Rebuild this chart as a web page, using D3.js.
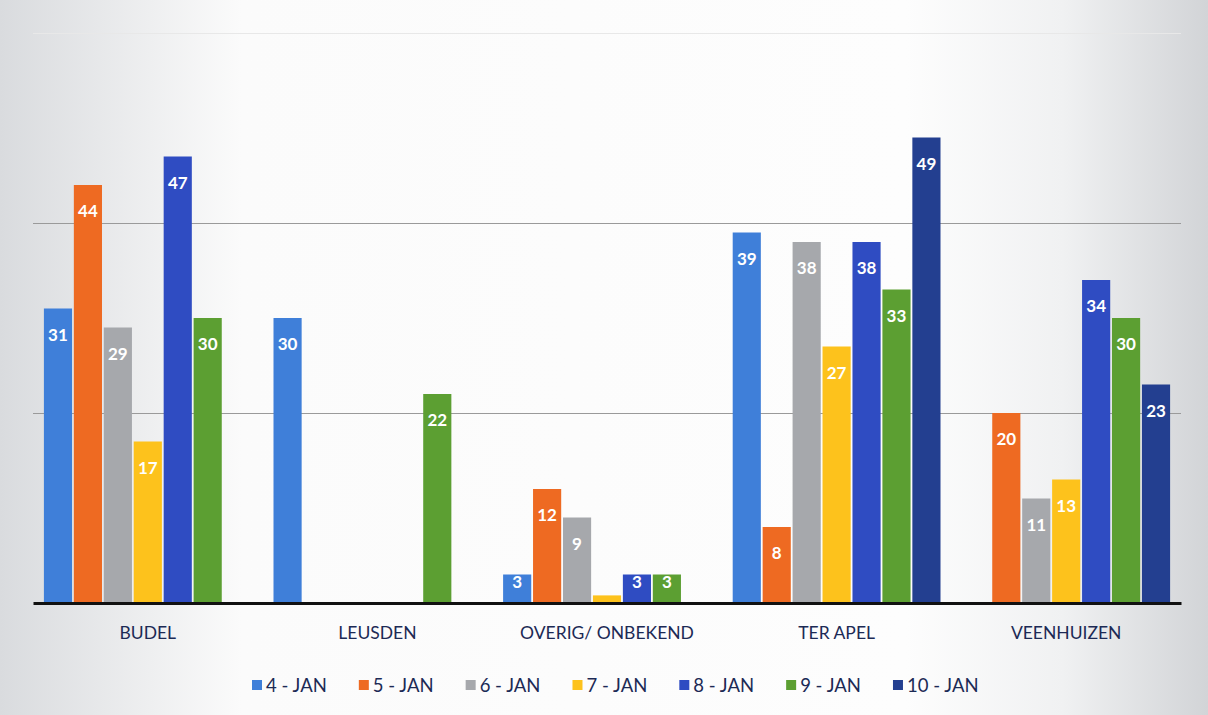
<!DOCTYPE html>
<html><head><meta charset="utf-8">
<script src="https://cdn.jsdelivr.net/npm/d3@7"></script>
<style>html,body{margin:0;padding:0;background:#fff;}svg{display:block;}</style>
</head><body>
<script>
const categories = ["BUDEL", "LEUSDEN", "OVERIG/ ONBEKEND", "TER APEL", "VEENHUIZEN"];
const seriesNames = ["4 - JAN", "5 - JAN", "6 - JAN", "7 - JAN", "8 - JAN", "9 - JAN", "10 - JAN"];
const jan4  = [31, 30, 3, 39, 0];
const jan5  = [44, 0, 12, 8, 20];
const jan6  = [29, 0, 9, 38, 11];
const jan7  = [17, 0, 0.8, 27, 13];
const jan8  = [47, 0, 3, 38, 34];
const jan9  = [30, 22, 3, 33, 30];
const jan10 = [0, 0, 0, 49, 23];
const yTicks = [20, 40, 60];
const colors = ["#3f7fd9", "#ee6a22", "#a6a8ac", "#fdc21c", "#2f4cc2", "#5c9f32", "#233f90"];

const seriesValues = [jan4, jan5, jan6, jan7, jan8, jan9, jan10];
const W = 1208, H = 715;
const svg = d3.select("body").append("svg").attr("width", W).attr("height", H);

const defs = svg.append("defs");
const g1 = defs.append("linearGradient").attr("id", "bg").attr("x1", "0").attr("x2", "1").attr("y1", "0").attr("y2", "0");
[[0, "#d9dbde"], [0.2, "#fbfbfb"], [0.75, "#fdfdfd"], [0.88, "#f0f1f2"], [1, "#d2d4d7"]].forEach(([o, c]) => g1.append("stop").attr("offset", o).attr("stop-color", c));
svg.append("rect").attr("width", W).attr("height", H).attr("fill", "url(#bg)");

const x0 = d3.scaleBand().domain(categories).range([33, 1181]).paddingInner(0).paddingOuter(0);
const x1 = d3.scaleBand().domain(seriesNames).range([10, x0.bandwidth() - 10]).paddingInner(0.06).paddingOuter(0.03);
const y = d3.scaleLinear().domain([0, 60]).range([603, 33]);

// gridlines
svg.append("g").selectAll("line").data(yTicks).join("line")
  .attr("x1", 33).attr("x2", 1181)
  .attr("y1", d => Math.round(y(d)) + 0.5).attr("y2", d => Math.round(y(d)) + 0.5)
  .attr("stroke", (d, i) => i === 2 ? "#e8e8e8" : "#9a9a9a").attr("stroke-width", 1);

const rows = [];
categories.forEach((c, ci) => seriesNames.forEach((s, si) => {
  rows.push({ cat: c, ser: s, si, v: seriesValues[si][ci] });
}));

const bars = svg.append("g");
bars.selectAll("rect").data(rows.filter(d => d.v > 0)).join("rect")
  .attr("x", d => x0(d.cat) + x1(d.ser))
  .attr("width", x1.bandwidth())
  .attr("y", d => y(d.v))
  .attr("height", d => y(0) - y(d.v))
  .attr("fill", d => colors[d.si]);

bars.selectAll("text").data(rows.filter(d => d.v >= 3)).join("text")
  .attr("x", d => x0(d.cat) + x1(d.ser) + x1.bandwidth() / 2)
  .attr("y", d => Math.min(y(d.v) + 32, y(0) - 15))
  .attr("text-anchor", "middle")
  .attr("font-family", "Lato, 'Open Sans', sans-serif")
  .attr("font-weight", "bold").attr("font-size", 17)
  .attr("fill", "#fff")
  .text(d => d.v);

// baseline axis
const xAxis = d3.axisBottom(x0).tickSize(0).tickPadding(24);
const ax = svg.append("g").attr("transform", `translate(0,${y(0)})`).call(xAxis);
ax.select(".domain").attr("stroke", "#111").attr("stroke-width", 3);
ax.selectAll("text").attr("font-family", "Lato, 'Open Sans', sans-serif").attr("font-size", 17.5)
  .attr("fill", "#1c2a55");

// legend
const leg = svg.append("g").attr("transform", "translate(252,685)");
let lx = 0;
seriesNames.forEach((s, i) => {
  const it = leg.append("g").attr("transform", `translate(${lx},0)`);
  it.append("rect").attr("x", 0).attr("y", -5).attr("width", 10).attr("height", 10).attr("fill", colors[i]);
  const t = it.append("text").attr("x", 14).attr("y", 6.5)
    .attr("font-family", "Lato, 'Open Sans', sans-serif").attr("font-size", 18.5)
    .attr("fill", "#1c2a55").text(s);
  lx += 14 + t.node().getComputedTextLength() + 32;
});
</script>
</body></html>
